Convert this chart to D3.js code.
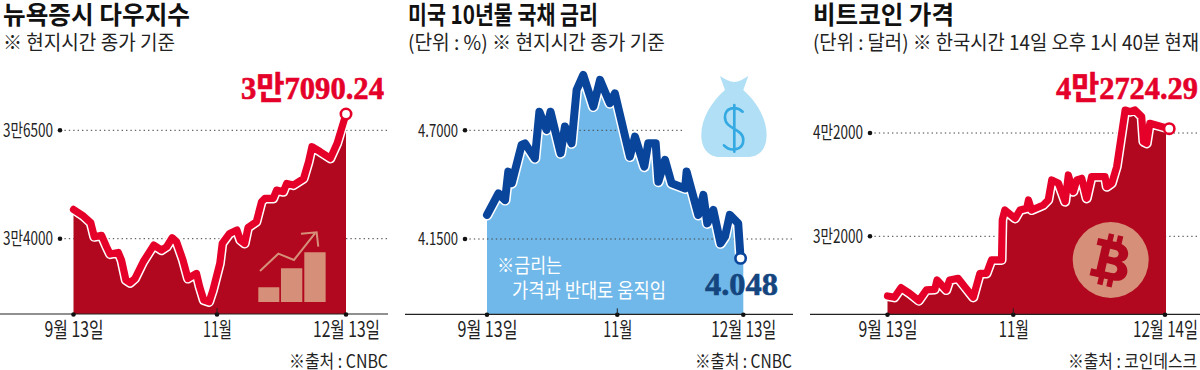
<!DOCTYPE html>
<html><head><meta charset="utf-8">
<script src="https://cdnjs.cloudflare.com/ajax/libs/d3/7.8.5/d3.min.js"></script>
<style>html,body{margin:0;background:#fff}svg{display:block}text{font-family:"Noto Sans CJK KR","Noto Sans",sans-serif}</style>
</head><body><svg id="c" width="1200" height="370"></svg>
<script>
// day offset from the first labelled date, closing value
const dowDays=[0,3.4,5.9,7.1,9.6,11.3,12.5,15.3,16.4,17.9,19.3,21,23.8,27.4,30,31.8,33.7,35.2,37.4,39.1,42,43.1,44.5,46.3,47.6,49.9,50.7,53.1,55.5,56.6,58,59.1,61.8,63.5,64.6,67.3,68.4,70.6,71.7,73.9,77.2,78.8,79.9,82.6,85.9,88.1,91];
const dowValues=[34676,34522,34368,34045,34076,33814,33645,33683,33507,33045,32983,33083,33468,33853,33737,33814,34022,33930,33507,33083,33199,32891,32583,32545,32814,33430,33891,34122,34199,33968,33891,34260,34391,34853,34930,34930,35122,35084,35276,35237,35391,35776,36122,36007,35853,36199,36876];
const bondDays=[0,4.3,6.8,8,9.3,13,14.3,18,19.7,22.4,23.9,27.7,29.3,31.8,33.7,36.2,40,42.5,46.2,48.1,53.2,54.9,58,59.3,61.8,62.7,64.9,67.1,71.6,72.1,76,77.7,79,81,83.4,84.9,86.5,89.3,90.1];
const bondValues=[4.272,4.381,4.347,4.491,4.432,4.626,4.634,4.558,4.794,4.702,4.794,4.584,4.719,4.634,4.904,4.980,4.820,4.955,4.837,4.887,4.567,4.668,4.516,4.634,4.634,4.440,4.550,4.432,4.406,4.491,4.272,4.373,4.229,4.297,4.128,4.162,4.272,4.229,4.052];
const btcDays=[0,2.7,5.3,8.6,12.2,15.1,18.4,19.3,22.9,24.2,27.5,30.1,33.4,36,38.6,40.5,44.4,44.7,45.7,49.5,50.9,52.8,53.3,54.2,57.5,58.9,59.9,61.8,63.7,64.6,66,67,68.4,69.8,71.2,75,75.5,76.9,78.3,80.7,82.1,83.5,85.4,85.9,86.8,87.7,93.2];
const btcValues=[26225,26096,27031,26483,25773,26806,26870,27773,26806,27773,27935,27128,26096,28419,28419,29709,29709,33580,34548,33741,34548,34709,35516,34548,35032,35516,37451,37129,35354,37935,36322,37451,37613,35677,37774,37774,36806,37129,38742,44226,44065,44226,43581,41161,41000,42936,42419];

const dowTicks=[36500,34000], dowTickLabels=["3만6500","3만4000"];
const bondTicks=[4.7,4.15], bondTickLabels=["4.7000","4.1500"];
const btcTicks=[42000,32000], btcTickLabels=["4만2000","3만2000"];
const dateTickDays=[0,49,91], btcTickDays=[0,49,92];
const dowDateLabels=["9월 13일","11월","12월 13일"];
const btcDateLabels=["9월 13일","11월","12월 14일"];

const svg=d3.select("#c");
const RED="#e5002a", DARK="#b1081f", NAVY="#0a459c", SKY="#70b8e9";

function label(g,t,x,y,size,w,o={}){
  const n=g.append("text").attr("x",x).attr("y",y).attr("font-size",size).text(t)
    .attr("fill",o.fill||"#222").attr("font-weight",o.weight||400);
  if(o.anchor)n.attr("text-anchor",o.anchor);
  if(o.family)n.style("font-family",o.family);
  if(o.stroke)n.attr("stroke",o.fill).attr("stroke-width",o.stroke);
  if(w)n.attr("textLength",w).attr("lengthAdjust","spacingAndGlyphs");
  return n;
}

function panel(p){
  const g=svg.append("g");
  const x=d3.scaleLinear().domain(p.tickDays).range(p.xr);
  const y=d3.scaleLinear().domain(p.ticks).range(p.yr);
  const pts=p.days.map((d,i)=>[d,p.values[i]]);
  const end=p.tickDays[2], last=p.values[p.values.length-1];
  const areaPts=pts[pts.length-1][0]<end?pts.concat([[end,last]]):pts;
  const grid=gg=>p.ticks.forEach((t,i)=>gg.append("line")
      .attr("x1",p.gridX).attr("x2",p.gridEnd[i]).attr("y1",y(t)).attr("y2",y(t))
      .attr("stroke","#444").attr("stroke-width",1).attr("stroke-dasharray","1.4 3"));
  const clipId="clip"+p.id;
  g.append("clipPath").attr("id",clipId).append("rect")
    .attr("x",x(0)-1).attr("y",0).attr("width",x(end)-x(0)+p.areaPad+1).attr("height",p.base);
  if(!p.gridOver) grid(g);
  g.append("path").datum(areaPts).attr("clip-path",`url(#${clipId})`).attr("fill",p.area)
    .attr("d",d3.area().x(d=>x(d[0])).y0(p.base).y1(d=>y(d[1])));
  if(p.gridOver) grid(g);
  const line=d3.line().x(d=>x(d[0])).y(d=>y(d[1]));
  g.append("path").datum(pts).attr("d",line).attr("fill","none").attr("stroke","#fff")
    .attr("stroke-width",p.lw+3).attr("stroke-linejoin","round").attr("stroke-linecap","round");
  g.append("path").datum(pts).attr("d",line).attr("fill","none").attr("stroke",p.color)
    .attr("stroke-width",p.lw).attr("stroke-linejoin","round").attr("stroke-linecap","round");
  // left value axis
  const yAxis=d3.axisLeft(y).tickValues(p.ticks).tickFormat((d,i)=>p.tickLabels[i]).tickSize(0).tickPadding(0);
  const ya=g.append("g").attr("transform",`translate(${p.gridX-7},0)`).call(yAxis);
  ya.select(".domain").remove();
  ya.selectAll("text").attr("font-size",18).attr("fill","#222").attr("textLength",p.yLabelW).attr("lengthAdjust","spacingAndGlyphs");
  g.selectAll(".ydot").data(p.ticks).enter().append("circle").attr("cx",p.gridX).attr("cy",d=>y(d)).attr("r",2.3).attr("fill","#111");
  // baseline + date axis
  g.append("line").attr("x1",p.baseX[0]).attr("x2",p.baseX[1]).attr("y1",p.base).attr("y2",p.base).attr("stroke","#222").attr("stroke-width",1.2);
  const xAxis=d3.axisBottom(x).tickValues(p.tickDays).tickFormat((d,i)=>p.dateLabels[i]).tickSize(0).tickPadding(8);
  const xa=g.append("g").attr("transform",`translate(0,${p.base})`).call(xAxis);
  xa.select(".domain").remove();
  xa.selectAll("text").attr("font-size",21).attr("fill","#222")
    .attr("textLength",(d,i)=>p.dateW[i]).attr("lengthAdjust","spacingAndGlyphs");
  g.selectAll(".xdot").data(p.tickDays).enter().append("circle").attr("cx",d=>x(d)).attr("cy",p.base+0.5).attr("r",2.3).attr("fill","#111");
  g.append("line").attr("x1",x(49)).attr("x2",x(49)).attr("y1",p.base-6).attr("y2",p.base).attr("stroke","#222");
  // end marker
  g.append("circle").attr("cx",x(pts[pts.length-1][0])).attr("cy",y(last)).attr("r",5.2)
    .attr("fill","#fff").attr("stroke",p.color).attr("stroke-width",2.6);
  return g;
}

const g1=panel({id:1,days:dowDays,values:dowValues,ticks:dowTicks,tickLabels:dowTickLabels,tickDays:dateTickDays,dateLabels:dowDateLabels,
  xr:[73.5,217,346],yr:[130.3,238.7],base:314,area:DARK,color:RED,lw:7.2,gridX:60,gridEnd:[388,388],baseX:[0,388],yLabelW:50,dateW:[59,29,67],areaPad:1});
const g2=panel({id:2,days:bondDays,values:bondValues,ticks:bondTicks,tickLabels:bondTickLabels,tickDays:dateTickDays,dateLabels:dowDateLabels,
  xr:[487,617.3,743.3],yr:[130.3,239],base:314.3,area:SKY,color:NAVY,lw:8,gridX:465,gridEnd:[683,795],baseX:[405,793],yLabelW:40,dateW:[60,29,65],areaPad:2,gridOver:true});
const g3=panel({id:3,days:btcDays,values:btcValues,ticks:btcTicks,tickLabels:btcTickLabels,tickDays:btcTickDays,dateLabels:btcDateLabels,
  xr:[887.5,1013.3,1165],yr:[133,236.3],base:314.3,area:DARK,color:RED,lw:7.2,gridX:870,gridEnd:[1200,1200],baseX:[810,1200],yLabelW:50,dateW:[59,30,65],areaPad:1});

// titles
const T=svg.append("g");
label(T,"뉴욕증시 다우지수",3,24,25,187,{weight:700,fill:"#111"});
label(T,"※ 현지시간 종가 기준",3,50,20,172);
label(T,"미국 10년물 국채 금리",408,24,25,190,{weight:700,fill:"#111"});
label(T,"(단위 : %) ※ 현지시간 종가 기준",408,50,20,257);
label(T,"비트코인 가격",813,24,25,141,{weight:700,fill:"#111"});
label(T,"(단위 : 달러) ※ 한국시간 14일 오후 1시 40분 현재",813,50,20,386);
// value callouts
const serif='"Liberation Serif","Noto Sans CJK KR",serif';
label(T,"3만7090.24",241,99,32,143,{weight:700,fill:RED,family:serif,stroke:0.6});
label(T,"4.048",705,295,32,73,{weight:700,fill:"#14457f",family:serif,stroke:0.6});
label(T,"4만2724.29",1056,99,32,142,{weight:700,fill:RED,family:serif,stroke:0.6});
// note and sources
label(T,"※금리는",497,273,20,65,{fill:"#fff"});
label(T,"가격과 반대로 움직임",512,298,20,154,{fill:"#fff"});
label(T,"※출처 : CNBC",289,368,18,99);
label(T,"※출처 : CNBC",695,368,18,97);
label(T,"※출처 : 코인데스크",1068,368,18,129);

// chart-rising icon
const ICON="#d68f78";
const ic=svg.append("g").attr("transform","translate(0,90) scale(.3333)").attr("fill",ICON);
ic.append("path").attr("d","M775,592H838V636H775ZM843,535H907V636H843ZM913,487H977V636H913Z");
ic.append("path").attr("d","M780,543L835,491L882,510L945,430M903,431L950,427L955,470").attr("fill","none").attr("stroke",ICON).attr("stroke-width",6);
// money bag icon
const bag=svg.append("g").attr("transform","translate(400,60) scale(.3333)");
bag.append("path").attr("fill","#b1dff5").attr("d","M960,48C975,58 990,66 1003,66C1016,66 1030,58 1045,48L1030,90C1070,125 1100,175 1100,225C1100,270 1075,291 1045,291H960C930,291 904,270 904,225C904,175 935,125 975,90Z");
bag.append("path").attr("fill","none").attr("stroke","#35a9e2").attr("stroke-width",8).attr("stroke-linecap","round")
  .attr("d","M1028,155C1010,138 975,140 975,172C975,208 1030,205 1030,240C1030,272 990,276 972,256M1003,135V275");
// bitcoin icon
const bt=svg.append("g").attr("transform","translate(1110.7,260)");
bt.append("circle").attr("r",38).attr("fill",ICON);
bt.append("g").attr("transform","rotate(13) scale(.78)").append("path").attr("fill",DARK).attr("fill-rule","evenodd")
  .attr("d","M-22,-24H-10V-33H-3V-24H2V-33H9V-23C22,-20 24,-5 14,-1C29,3 28,24 9,25V34H2V25H-3V34H-10V25H-22V16H-15V-15H-22ZM-4,-14V-4H3C10,-4 10,-14 3,-14ZM-4,5V16H5C13,16 13,5 5,5Z");
</script></body></html>
